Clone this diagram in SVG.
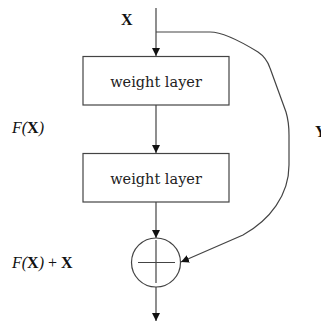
<svg xmlns="http://www.w3.org/2000/svg" width="321" height="322" viewBox="0 0 321 322">
<style>
.box{fill:#fff;stroke:#444;stroke-width:1.2}
.ln{fill:none;stroke:#444;stroke-width:1.2}
.wl{font-family:"DejaVu Serif",serif;font-size:14.5px;fill:#222;text-anchor:middle}
.lb{font-family:"Liberation Serif",serif;font-size:16px;fill:#111}
</style>
<defs>
<marker id="ah" markerWidth="10" markerHeight="10" refX="8" refY="4" orient="auto" markerUnits="userSpaceOnUse">
<path d="M0,0 L8,4 L0,8 z" fill="#111"/>
</marker>
</defs>
<g id="connectors">
<line class="ln" x1="156" y1="8" x2="156" y2="56" marker-end="url(#ah)"/>
<line class="ln" x1="156" y1="105" x2="156" y2="153" marker-end="url(#ah)"/>
<line class="ln" x1="156" y1="202" x2="156" y2="238" marker-end="url(#ah)"/>
<line class="ln" x1="156" y1="287" x2="156" y2="321" marker-end="url(#ah)"/>
<path class="ln" d="M156,32 L210,32 C225,32 245,44 258,52 C264,56 268,62 270,68 L286,112 C289,122 289,128 289,135 L289,165 C289,195 270,220 243,235 L181,262" marker-end="url(#ah)"/>
</g>
<g id="label-x"><text class="lb" x="121" y="25" font-weight="bold">X</text></g>
<g id="weight1">
<rect class="box" x="83" y="56.5" width="146" height="48.5"/>
<text class="wl" x="156" y="87">weight layer</text>
</g>
<g id="weight2">
<rect class="box" x="83" y="153.5" width="146" height="48.5"/>
<text class="wl" x="156" y="184">weight layer</text>
</g>
<g id="label-fx"><text class="lb" x="12" y="133"><tspan font-style="italic">F(</tspan><tspan font-weight="bold">X</tspan><tspan font-style="italic">)</tspan></text></g>
<g id="label-y"><text class="lb" x="315" y="137" font-weight="bold">Y</text></g>
<g id="sum">
<circle class="ln" cx="156" cy="262.5" r="24.5"/>
<line class="ln" x1="138" y1="262.5" x2="175" y2="262.5"/>
<line class="ln" x1="156" y1="240" x2="156" y2="283"/>
</g>
<g id="label-fxx"><text class="lb" x="12" y="268"><tspan font-style="italic">F(</tspan><tspan font-weight="bold">X</tspan><tspan font-style="italic">)</tspan> + <tspan font-weight="bold">X</tspan></text></g>
</svg>
